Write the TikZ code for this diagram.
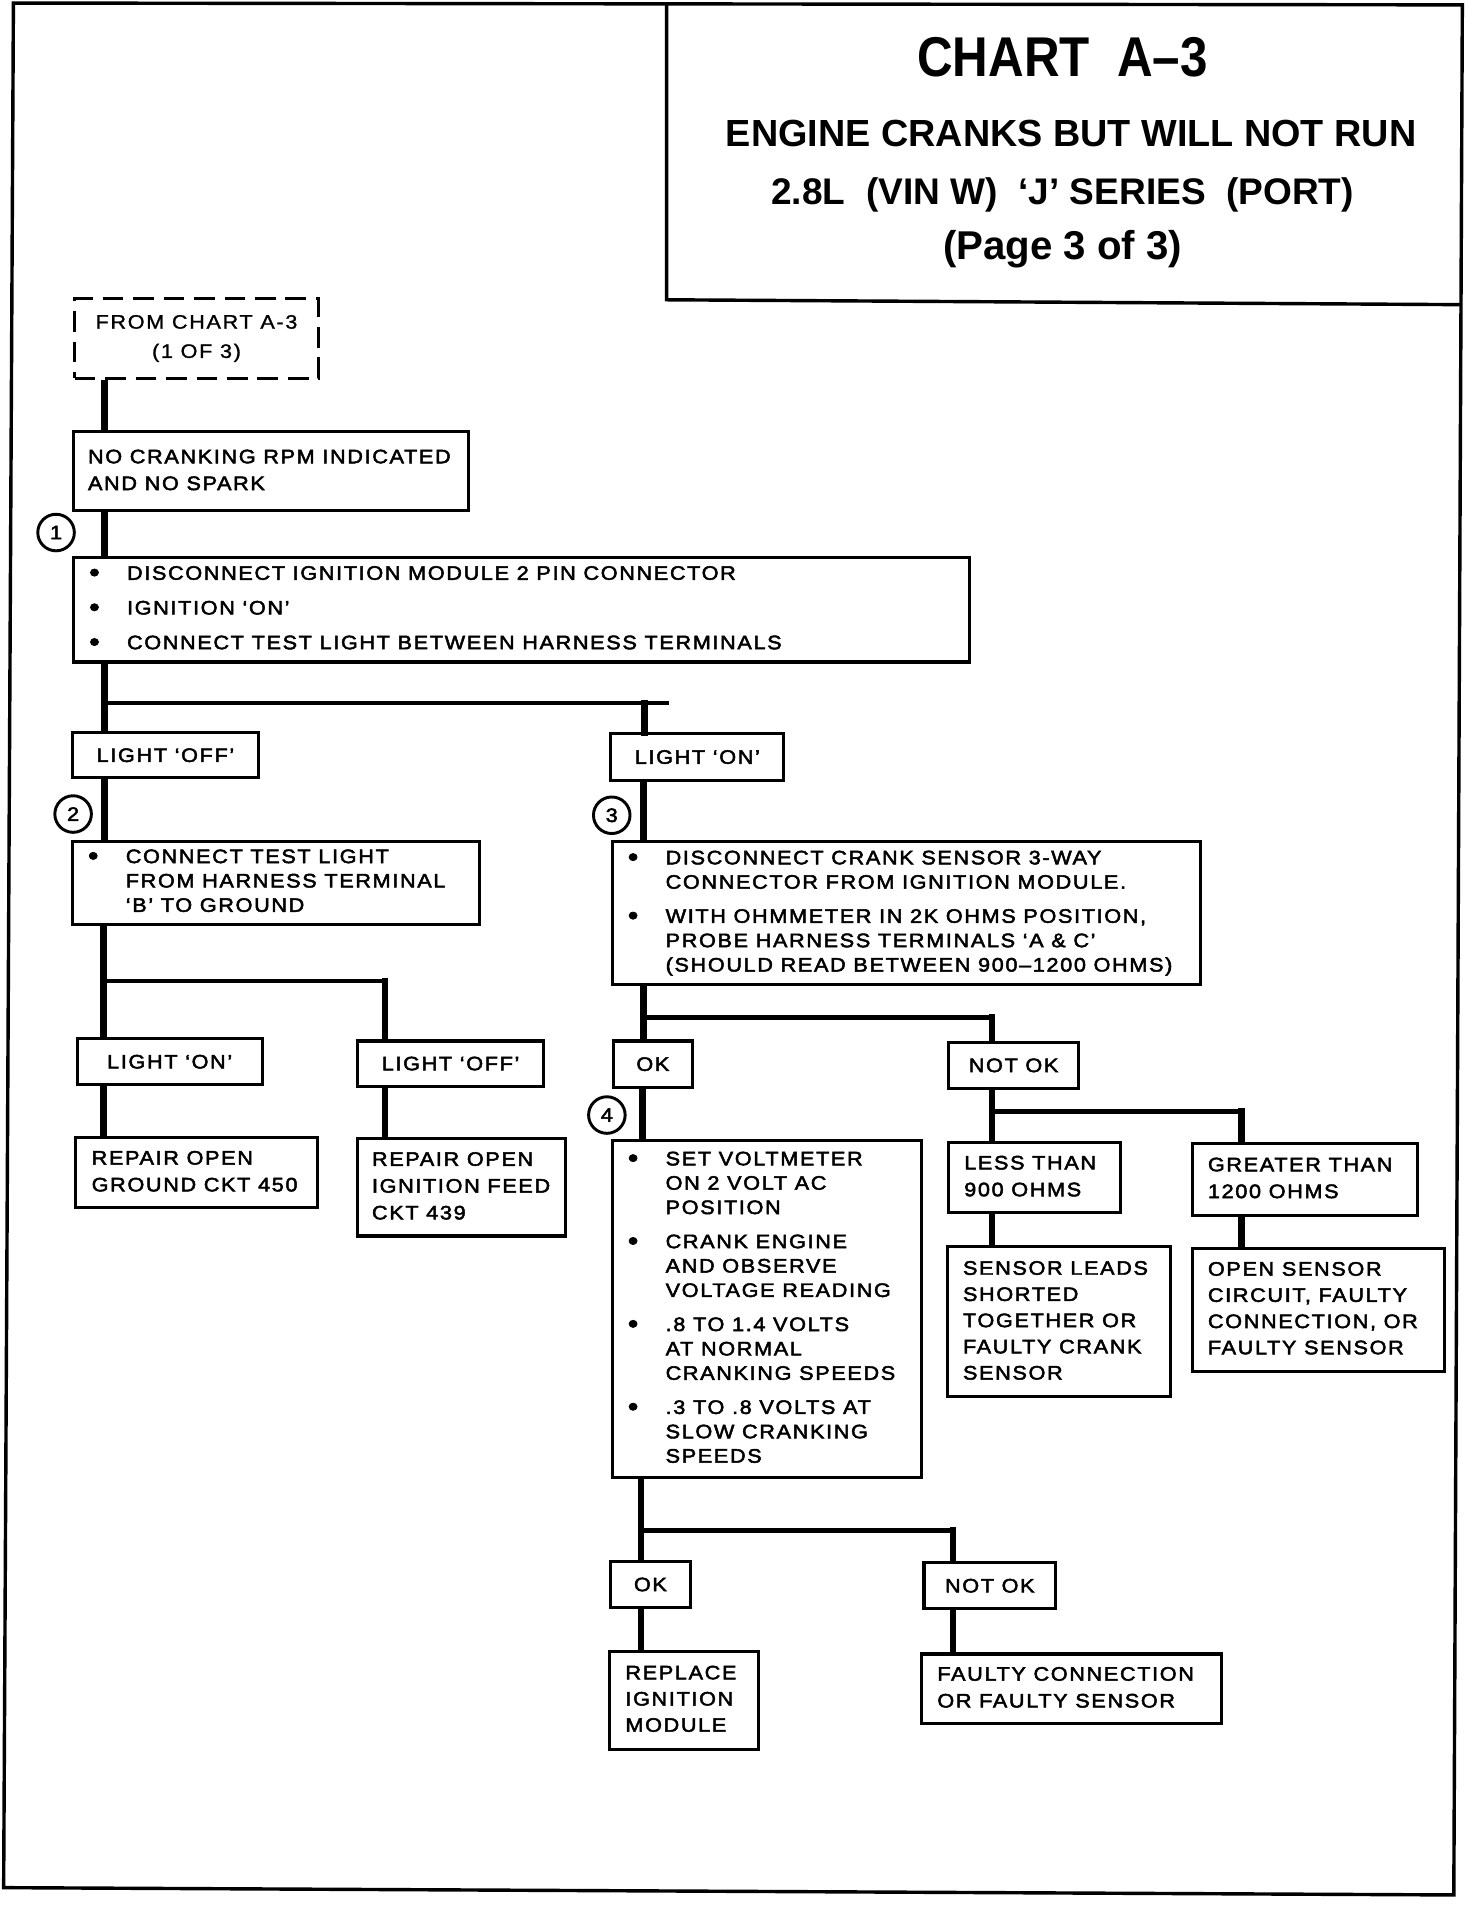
\documentclass[tikz,border=0pt]{standalone}
\usepackage{fontspec}
\setmainfont{Liberation Sans}
\newfontfamily\bodyf[FakeStretch=1.11,LetterSpace=8.5,RawFeature={embolden=2.5}]{Liberation Sans}
\newfontfamily\dashf[FakeStretch=1.11,LetterSpace=8.5,RawFeature={embolden=1.2}]{Liberation Sans}
\newfontfamily\titlef{Liberation Sans}
\newfontfamily\titlec[FakeStretch=0.88]{Liberation Sans}
\newcommand\bu{\makebox[15.5pt][l]{\raisebox{-0.7pt}{\fontsize{11}{10}\selectfont\textbullet}}}
\newcommand\ind{\hspace*{15.5pt}}
\newcommand\tb[2]{\makebox[#1][l]{\begin{tabular}{@{}l@{}}#2\end{tabular}}}
\begin{document}
\begin{tikzpicture}[x=0.5pt,y=-0.5pt,
  frame/.style={line width=1.4pt},
  vconn/.style={line width=2.8pt},
  hconn/.style={line width=1.9pt},
  bx/.style={draw,line width=1.25pt,anchor=north west,inner sep=0pt,font=\bodyf\fontsize{8}{11}\selectfont},
  bl/.style={bx,font=\bodyf\fontsize{8}{10}\selectfont},
  lb/.style={draw,line width=1.25pt,anchor=north west,inner sep=0pt,font=\bodyf\fontsize{8}{10}\selectfont},
  num/.style={circle,draw,line width=1.2pt,minimum size=15pt,inner sep=0pt,font=\bodyf\fontsize{8}{9}\selectfont},
  ttl/.style={anchor=base,inner sep=0pt}]
\useasboundingbox (0,0) rectangle (1208,1569);
% page frame and title box
\draw[frame] (11,2.5) -- (1200,4) -- (1193,1555) -- (3,1549) -- cycle;
\draw[frame] (547,3) -- (547,246) -- (1199,250);
\node[ttl,font=\titlec\bfseries\fontsize{23}{24}\selectfont] (t1) at (872,63) {CHART\ \ A–3};
\node[ttl,font=\titlef\bfseries\fontsize{15.5}{16}\selectfont] (t2) at (879,120) {ENGINE CRANKS BUT WILL NOT RUN};
\node[ttl,font=\titlef\bfseries\fontsize{15.2}{16}\selectfont] (t3) at (872,168) {2.8L\ \ (VIN W)\ \ ‘J’ SERIES\ \ (PORT)};
\node[ttl,font=\titlef\bfseries\fontsize{16.5}{17}\selectfont] (t4) at (872,213) {(Page 3 of 3)};
% boxes
\node[lb,align=center,minimum width=100pt,minimum height=32.5pt,dash pattern=on 8.5pt off 4pt,font=\dashf\fontsize{8}{12}\selectfont] (dash) at (60,244) {FROM CHART A-3\\(1 OF 3)};
\node[bx,minimum width=162pt,minimum height=32.5pt] (b0) at (59,353) {\tb{150pt}{NO CRANKING RPM INDICATED\\AND NO SPARK}};
\node[bl,minimum width=367.5pt,minimum height=43pt] (b1) at (59,456) {\tb{354.5pt}{\bu DISCONNECT IGNITION MODULE 2 PIN CONNECTOR\\[4.25pt]\bu IGNITION ‘ON’\\[4.25pt]\bu CONNECT TEST LIGHT BETWEEN HARNESS TERMINALS}};
\node[lb,minimum width=76.5pt,minimum height=18.5pt] (lOff1) at (58,600) {LIGHT ‘OFF’};
\node[lb,minimum width=71pt,minimum height=19pt] (lOn1) at (500,601) {LIGHT ‘ON’};
\node[bl,minimum width=167pt,minimum height=34pt] (b2) at (58,689) {\tb{154pt}{\bu CONNECT TEST LIGHT\\\ind FROM HARNESS TERMINAL\\\ind ‘B’ TO GROUND}};
\node[lb,minimum width=76pt,minimum height=19pt] (lOn2) at (62,851) {LIGHT ‘ON’};
\node[lb,minimum width=76.5pt,minimum height=18.5pt] (lOff2) at (292,853) {LIGHT ‘OFF’};
\node[bx,minimum width=99pt,minimum height=29pt] (r450) at (61,932) {\tb{86pt}{REPAIR OPEN\\GROUND CKT 450}};
\node[bx,minimum width=85.5pt,minimum height=40pt] (r439) at (292,933) {\tb{73.5pt}{REPAIR OPEN\\IGNITION FEED\\CKT 439}};
\node[bl,minimum width=241.5pt,minimum height=59pt] (b3) at (501,689) {\tb{228.5pt}{\bu DISCONNECT CRANK SENSOR 3-WAY\\\ind CONNECTOR FROM IGNITION MODULE.\\[4pt]\bu WITH OHMMETER IN 2K OHMS POSITION,\\\ind PROBE HARNESS TERMINALS ‘A \& C’\\\ind (SHOULD READ BETWEEN 900–1200 OHMS)}};
\node[lb,minimum width=32.5pt,minimum height=19pt] (ok1) at (502,853) {OK};
\node[lb,minimum width=53.5pt,minimum height=19pt] (nok1) at (777,854) {NOT OK};
\node[bl,minimum width=127pt,minimum height=138pt] (b4) at (501,935) {\tb{114pt}{\bu SET VOLTMETER\\\ind ON 2 VOLT AC\\\ind POSITION\\[4pt]\bu CRANK ENGINE\\\ind AND OBSERVE\\\ind VOLTAGE READING\\[4pt]\bu .8 TO 1.4 VOLTS\\\ind AT NORMAL\\\ind CRANKING SPEEDS\\[4pt]\bu .3 TO .8 VOLTS AT\\\ind SLOW CRANKING\\\ind SPEEDS}};
\node[bx,minimum width=70.5pt,minimum height=29pt] (less) at (777,936) {\tb{57.5pt}{LESS THAN\\900 OHMS}};
\node[bx,minimum width=92.5pt,minimum height=29.5pt] (greater) at (977,937) {\tb{79.5pt}{GREATER THAN\\1200 OHMS}};
\node[bx,minimum width=91.5pt,minimum height=61.5pt,font=\bodyf\fontsize{8}{10.75}\selectfont] (leads) at (776,1022) {\tb{78.5pt}{SENSOR LEADS\\SHORTED\\TOGETHER OR\\FAULTY CRANK\\SENSOR}};
\node[bx,minimum width=103.5pt,minimum height=50.5pt,font=\bodyf\fontsize{8}{10.75}\selectfont] (open) at (977,1023) {\tb{90.5pt}{OPEN SENSOR\\CIRCUIT, FAULTY\\CONNECTION, OR\\FAULTY SENSOR}};
\node[lb,minimum width=32.5pt,minimum height=19pt] (ok2) at (500,1280) {OK};
\node[lb,minimum width=54pt,minimum height=19pt] (nok2) at (757,1281) {NOT OK};
\node[bx,minimum width=61pt,minimum height=40pt,font=\bodyf\fontsize{8}{10.75}\selectfont] (repl) at (499,1354) {\tb{48pt}{REPLACE\\IGNITION\\MODULE}};
\node[bx,minimum width=123pt,minimum height=28.5pt] (faulty) at (755,1356) {\tb{110pt}{FAULTY CONNECTION\\OR FAULTY SENSOR}};
% step numbers
\node[num] (c1) at (46,437) {1};
\node[num] (c2) at (60,668) {2};
\node[num] (c3) at (502,669) {3};
\node[num] (c4) at (498,915) {4};
% junctions
\coordinate (j1) at (86,577); \coordinate (j1r) at (529,577); \coordinate (j1e) at (549,577);
\coordinate (j2) at (85,805); \coordinate (j2r) at (316,805);
\coordinate (j3) at (528,835); \coordinate (j3r) at (814,835);
\coordinate (j4) at (814,912); \coordinate (j4r) at (1019,912);
\coordinate (j5) at (526,1256); \coordinate (j5r) at (782,1256);
% connectors
\draw[vconn] (86,0 |- dash.south) -- (86,0 |- b0.north);
\draw[vconn] (86,0 |- b0.south) -- (86,0 |- b1.north);
\draw[vconn] (86,0 |- b1.south) -- (86,0 |- lOff1.north);
\draw[hconn] (j1) -- (j1e);
\draw[vconn,line cap=rect] (j1r) -- (529,0 |- lOn1.north);
\draw[vconn] (86,0 |- lOff1.south) -- (86,0 |- b2.north);
\draw[vconn] (85,0 |- b2.south) -- (85,0 |- lOn2.north);
\draw[hconn] (j2) -- (j2r);
\draw[vconn,line cap=rect] (j2r) -- (316,0 |- lOff2.north);
\draw[vconn] (85,0 |- lOn2.south) -- (85,0 |- r450.north);
\draw[vconn] (316,0 |- lOff2.south) -- (316,0 |- r439.north);
\draw[vconn] (528,0 |- lOn1.south) -- (528,0 |- b3.north);
\draw[vconn] (528,0 |- b3.south) -- (528,0 |- ok1.north);
\draw[hconn] (j3) -- (j3r);
\draw[vconn,line cap=rect] (j3r) -- (814,0 |- nok1.north);
\draw[vconn] (527,0 |- ok1.south) -- (527,0 |- b4.north);
\draw[vconn] (814,0 |- nok1.south) -- (814,0 |- less.north);
\draw[hconn] (j4) -- (j4r);
\draw[vconn,line cap=rect] (j4r) -- (1019,0 |- greater.north);
\draw[vconn] (814,0 |- less.south) -- (814,0 |- leads.north);
\draw[vconn] (1019,0 |- greater.south) -- (1019,0 |- open.north);
\draw[vconn] (526,0 |- b4.south) -- (526,0 |- ok2.north);
\draw[hconn] (j5) -- (j5r);
\draw[vconn,line cap=rect] (j5r) -- (782,0 |- nok2.north);
\draw[vconn] (526,0 |- ok2.south) -- (526,0 |- repl.north);
\draw[vconn] (782,0 |- nok2.south) -- (782,0 |- faulty.north);
\end{tikzpicture}
\end{document}
